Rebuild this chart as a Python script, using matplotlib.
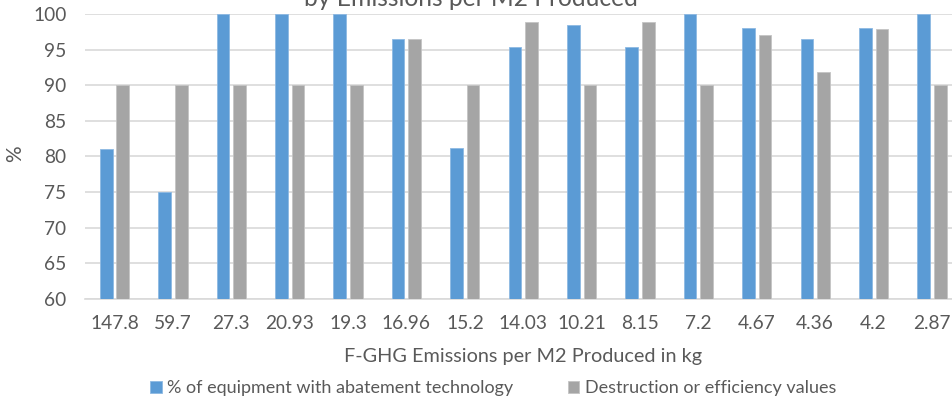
import matplotlib
matplotlib.use("Agg")
import matplotlib.pyplot as plt
import numpy as np

# Values
emissions = ["147.8", "59.7", "27.3", "20.93", "19.3", "16.96", "15.2", "14.03",
             "10.21", "8.15", "7.2", "4.67", "4.36", "4.2", "2.87"]
abatement = [81, 75, 100, 100, 100, 96.5, 81.2, 95.4, 98.5, 95.3, 100, 98.1, 96.5, 98.1, 100]
destruction = [90, 90, 90, 90, 90, 96.5, 90, 98.9, 90, 98.9, 90, 97.0, 91.9, 97.9, 90]
yticks = [60, 65, 70, 75, 80, 85, 90, 95, 100]

BLUE = "#5B9BD5"
GRAY = "#A5A5A5"
TXT = "#595959"
GRID = "#D9D9D9"

plt.rcParams['font.family'] = ['Lato', 'DejaVu Sans']

fig = plt.figure(figsize=(9.52, 3.98), dpi=100)
ax = fig.add_axes([0.0896, 0.2495, 0.920, 0.7153])

x = np.arange(len(emissions))
w = 0.217
off = 0.142
ax.bar(x - off, abatement, w, color=BLUE, edgecolor="#8DB9E3", linewidth=0.6,
       label="% of equipment with abatement technology", zorder=3)
ax.bar(x + off, destruction, w, color=GRAY, edgecolor="#C4C4C4", linewidth=0.6,
       label="Destruction or efficiency values", zorder=3)

ax.set_ylim(60, 100)
ax.set_xlim(-0.5, len(emissions) - 0.5)
ax.set_yticks(yticks)
ax.set_xticks(x)
ax.set_xticklabels(emissions)
ax.yaxis.grid(True, color=GRID, linewidth=1.2, zorder=0)
ax.set_axisbelow(True)
for s in ["top", "right", "left"]:
    ax.spines[s].set_visible(False)
ax.spines["bottom"].set_color(GRID)
ax.spines["bottom"].set_linewidth(1.2)
ax.tick_params(axis="both", length=0, labelsize=13.8, labelcolor=TXT)
ax.tick_params(axis="y", pad=13.5)
ax.tick_params(axis="x", pad=12)

ax.set_xlabel("F-GHG Emissions per M2 Produced in kg", fontsize=14.3, color=TXT, labelpad=11)
fig.text(0.016, 0.615, "%", rotation=90, fontsize=15, color=TXT, ha="center", va="center")

# first title line lies above the visible area, as in the source image
fig.text(0.495, 0.986, "by Emissions per M2 Produced", fontsize=17.7, color=TXT,
         ha="center", va="baseline")

fig.legend(loc="center", bbox_to_anchor=(0.518, 0.025), ncol=2, frameon=False,
           fontsize=13, labelcolor=TXT, handlelength=0.65, handleheight=0.65,
           handletextpad=0.3, columnspacing=3.0, borderaxespad=0)

fig.savefig("out.png", dpi=100)
